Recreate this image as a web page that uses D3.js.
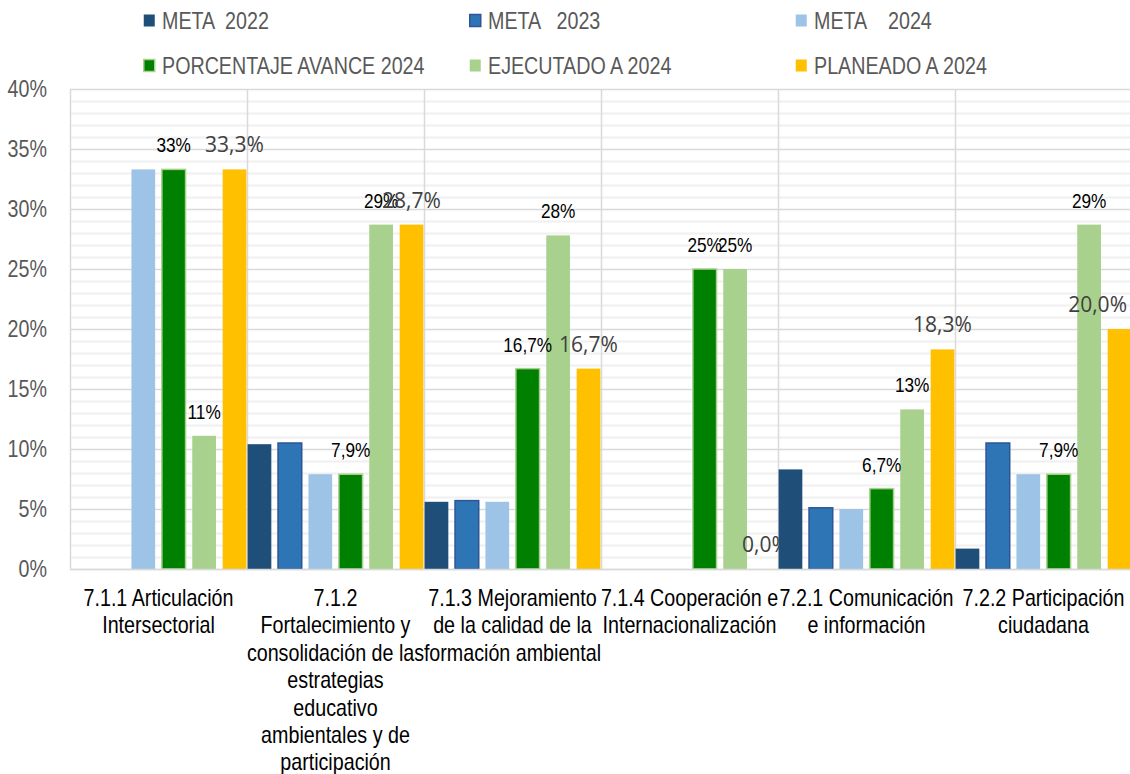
<!DOCTYPE html>
<html>
<head>
<meta charset="utf-8">
<script src="https://cdn.jsdelivr.net/npm/d3@7"></script>
<style>
	body { margin: 0; background: #fff; }
	.narrow { font-family: "Liberation Sans", Arial, sans-serif; }
</style>
</head>
<body>
<svg id="chart" width="1130" height="774"></svg>
<script>
// categorias y series
var categories = ["7.1.1", "7.1.2", "7.1.3", "7.1.4", "7.2.1", "7.2.2"];
var categoryLines = [
	["7.1.1 Articulación", "Intersectorial"],
	["7.1.2", "Fortalecimiento y", "consolidación de las", "estrategias", "educativo", "ambientales y de", "participación"],
	["7.1.3 Mejoramiento", "de la calidad de la", "formación ambiental"],
	["7.1.4 Cooperación e", "Internacionalización"],
	["7.2.1 Comunicación", "e información"],
	["7.2.2 Participación", "ciudadana"]
];
var seriesNames = ["META  2022", "META   2023", "META    2024", "PORCENTAJE AVANCE 2024", "EJECUTADO A 2024", "PLANEADO A 2024"];
var meta2022 = [0, 0.104, 0.056, 0, 0.083, 0.017];
var meta2023 = [0, 0.105, 0.057, 0, 0.051, 0.105];
var meta2024 = [0.333, 0.079, 0.056, 0, 0.050, 0.079];
var avance2024 = [0.333, 0.079, 0.167, 0.25, 0.067, 0.079];
var ejecutado2024 = [0.111, 0.287, 0.278, 0.25, 0.133, 0.287];
var planeado2024 = [0.333, 0.287, 0.167, 0, 0.183, 0.20];
var avanceLabels = ["33%", "7,9%", "16,7%", "25%", "6,7%", "7,9%"];
var ejecutadoLabels = ["11%", "29%", "28%", "25%", "13%", "29%"];
var planeadoLabels = ["33,3%", "28,7%", "16,7%", "0,0%", "18,3%", "20,0%"];
var yTicks = [0, 0.05, 0.10, 0.15, 0.20, 0.25, 0.30, 0.35, 0.40];

var colors = ["#1f4e79", "#2e75b6", "#9dc3e6", "#008000", "#a9d18e", "#ffc000"];
var strokes = [null, "#2f5597", null, "#a9d18e", null, null];

var series = [meta2022, meta2023, meta2024, avance2024, ejecutado2024, planeado2024];
var labels = [null, null, null, avanceLabels, ejecutadoLabels, planeadoLabels];

/**
* Texto angosto: Arial comprimido al 82% (no hay Arial Narrow instalada)
*/
function narrow(sel)
{
	sel.each(function() {
		var w = this.getComputedTextLength();
		this.setAttribute("textLength", w * 0.82);
		this.setAttribute("lengthAdjust", "spacingAndGlyphs");
	});
}

var svg = d3.select("#chart");
var plotLeft = 70, plotRight = 1132, plotTop = 89, plotBottom = 569;

var x0 = d3.scaleBand().domain(categories).range([plotLeft, plotRight]).padding(0);
var x1 = d3.scaleBand().domain(d3.range(6)).range([0, x0.bandwidth()]).paddingInner(0.22).paddingOuter(0.02);
var y = d3.scaleLinear().domain([0, 0.4]).range([plotBottom, plotTop]);

// lineas menores cada 1%
svg.append("g").selectAll("line")
	.data(d3.range(0, 41).filter(function(d) { return d % 5 != 0; }))
	.enter().append("line")
	.attr("x1", plotLeft).attr("x2", plotRight)
	.attr("y1", function(d) { return Math.round(y(d / 100)) + 0.5; })
	.attr("y2", function(d) { return Math.round(y(d / 100)) + 0.5; })
	.attr("stroke", "#f0f0f0").attr("stroke-width", 2);

// lineas mayores
svg.append("g").selectAll("line")
	.data(yTicks)
	.enter().append("line")
	.attr("x1", plotLeft).attr("x2", plotRight)
	.attr("y1", function(d) { return Math.round(y(d)) + 0.5; })
	.attr("y2", function(d) { return Math.round(y(d)) + 0.5; })
	.attr("stroke", "#d9d9d9").attr("stroke-width", 1.5);

// separadores verticales
svg.append("g").selectAll("line")
	.data(categories)
	.enter().append("line")
	.attr("x1", function(d) { return Math.round(x0(d)) + 0.5; })
	.attr("x2", function(d) { return Math.round(x0(d)) + 0.5; })
	.attr("y1", plotTop).attr("y2", plotBottom)
	.attr("stroke", "#d9d9d9").attr("stroke-width", 1.5);

// eje y
var yAxis = d3.axisLeft(y).tickValues(yTicks).tickSize(0).tickPadding(23)
	.tickFormat(d3.format(".0%"));
var ya = svg.append("g").attr("transform", "translate(" + plotLeft + ",0)").call(yAxis);
ya.select(".domain").remove();
ya.selectAll("text")
	.attr("class", "narrow")
	.attr("font-size", 24)
	.attr("fill", "#595959")
	.call(narrow);

// barras
var groups = svg.append("g").selectAll("g")
	.data(categories)
	.enter().append("g")
	.attr("transform", function(d) { return "translate(" + x0(d) + ",0)"; });

series.forEach(function(vals, s) {
	groups.append("rect")
		.attr("x", x1(s))
		.attr("width", x1.bandwidth())
		.attr("y", function(d, i) { return y(vals[i]); })
		.attr("height", function(d, i) { return plotBottom - y(vals[i]); })
		.attr("fill", colors[s])
		.attr("stroke", function(d, i) { return strokes[s] && vals[i] > 0 ? strokes[s] : "none"; })
		.attr("stroke-width", 1.5);
});

// linea base
svg.append("line")
	.attr("x1", plotLeft).attr("x2", plotRight)
	.attr("y1", plotBottom + 0.5).attr("y2", plotBottom + 0.5)
	.attr("stroke", "#d9d9d9").attr("stroke-width", 1.5);

// etiquetas de datos
series.forEach(function(vals, s) {
	if (!labels[s]) return;
	var plan = s == 5;
	var t = groups.append("text")
		.attr("class", plan ? null : "narrow")
		.attr("x", x1(s) + x1.bandwidth() / 2)
		.attr("y", function(d, i) { return y(vals[i]) - 17; })
		.attr("text-anchor", "middle")
		.attr("font-family", plan ? "'Open Sans', sans-serif" : null)
		.attr("font-size", 21)
		.attr("fill", plan ? "#404040" : "#000")
		.text(function(d, i) { return labels[s][i]; });
	if (!plan) t.call(narrow);
	// como en Excel, la etiqueta no se sale del area del grafico
	t.each(function(d) {
		var b = this.getBBox();
		var over = x0(d) + b.x + b.width - 1127;
		if (over > 0) this.setAttribute("x", x1(s) + x1.bandwidth() / 2 - over);
	});
});

// etiquetas de categoria, una linea por texto
categoryLines.forEach(function(lines, i) {
	svg.append("g").selectAll("text")
		.data(lines)
		.enter().append("text")
		.attr("class", "narrow")
		.attr("text-anchor", "middle")
		.attr("x", x0(categories[i]) + x0.bandwidth() / 2)
		.attr("y", function(d, j) { return 606 + j * 27.4; })
		.attr("font-size", 24)
		.attr("fill", "#000")
		.text(function(d) { return d; })
		.call(narrow);
});

// leyenda
var legendX = [143, 469, 795];
var legendY = [20, 65];
var legend = svg.append("g").selectAll("g")
	.data(seriesNames)
	.enter().append("g")
	.attr("transform", function(d, i) { return "translate(" + legendX[i % 3] + "," + legendY[Math.floor(i / 3)] + ")"; });
legend.append("rect")
	.attr("x", 0.75).attr("y", -5.5).attr("width", 11).attr("height", 12)
	.attr("fill", function(d, i) { return colors[i]; })
	.attr("stroke", function(d, i) { return strokes[i] || "none"; })
	.attr("stroke-width", 1.5);
legend.append("text")
	.attr("class", "narrow")
	.attr("x", 19).attr("y", 9)
	.attr("font-size", 24)
	.attr("fill", "#595959")
	.style("white-space", "pre")
	.text(function(d) { return d; })
	.call(narrow);
</script>
</body>
</html>
